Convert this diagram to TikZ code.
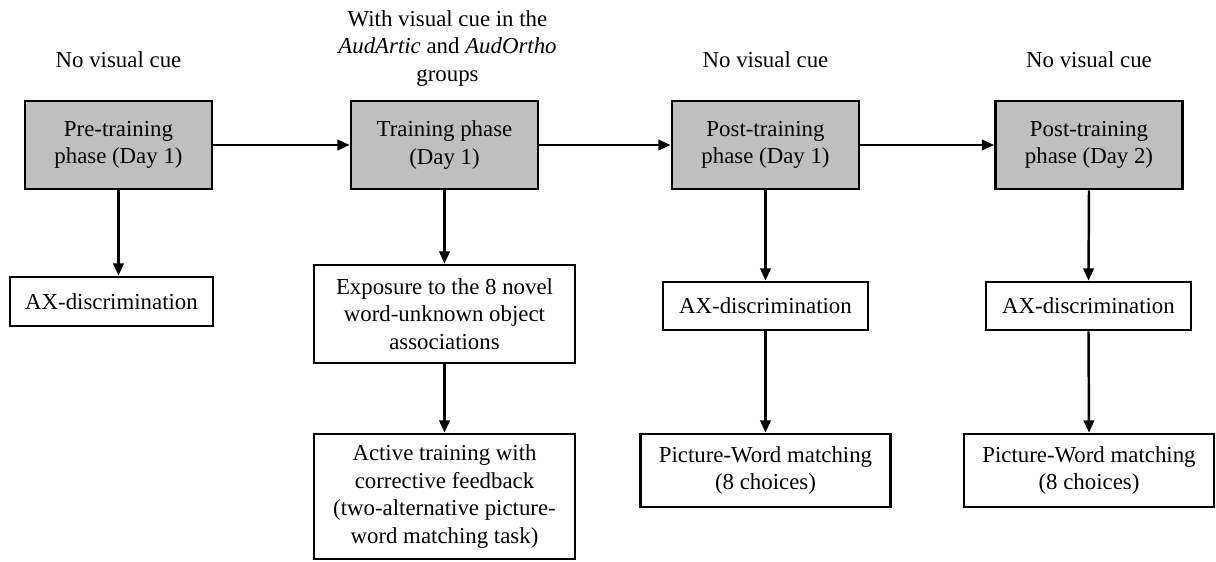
\documentclass[tikz,border=0pt]{standalone}
\usepackage{fontspec}
\setmainfont{Liberation Serif}
\usetikzlibrary{arrows.meta}

\begin{document}
\begin{tikzpicture}[
  font=\fontsize{13}{15.7}\selectfont,
  phase/.style={draw, line width=1.6pt, fill=black!25, align=center, inner sep=0pt, minimum width=3.74cm, minimum height=1.76cm},
  task/.style={draw, line width=1.6pt, fill=white, align=center, inner sep=0pt},
  link/.style={line width=1.4pt, -{Triangle[length=7pt,width=6pt]}}
  ]
  \useasboundingbox (0,0) rectangle (24.32,-11.22);

  % phases
  \node[phase] (pre) at (2.37,-2.9) {Pre-training\\phase (Day 1)};
  \node[phase] (train) at (8.89,-2.9) {Training phase\\(Day 1)};
  \node[phase] (postA) at (15.31,-2.9) {Post-training\\phase (Day 1)};
  \node[phase] (postB) at (21.78,-2.9) {Post-training\\phase (Day 2)};

  % cue labels
  \node[align=center] (cuepre) at (2.37,-1.2) {No visual cue};
  \node[align=center] (cuetrain) at (8.95,-0.97) {With visual cue in the\\\textit{AudArtic} and \textit{AudOrtho}\\groups};
  \node[align=center] (cuepostA) at (15.31,-1.2) {No visual cue};
  \node[align=center] (cuepostB) at (21.78,-1.2) {No visual cue};

  % tasks
  \node[task, minimum width=4.06cm, minimum height=0.98cm] (axpre) at (2.23,-6.03) {AX-discrimination};
  \node[task, minimum width=5.22cm, minimum height=1.96cm] (expo) at (8.89,-6.28) {Exposure to the 8 novel\\word-unknown object\\associations};
  \node[task, minimum width=5.22cm, minimum height=2.5cm] (active) at (8.89,-9.93) {Active training with\\corrective feedback\\(two-alternative picture-\\word matching task)};
  \node[task, minimum width=4.1cm, minimum height=0.96cm] (axpostA) at (15.31,-6.12) {AX-discrimination};
  \node[task, minimum width=4.1cm, minimum height=0.96cm] (axpostB) at (21.77,-6.12) {AX-discrimination};
  \node[task, minimum width=5cm, minimum height=1.46cm] (pwA) at (15.31,-9.41) {Picture-Word matching\\(8 choices)};
  \node[task, minimum width=5cm, minimum height=1.46cm] (pwB) at (21.78,-9.41) {Picture-Word matching\\(8 choices)};

  % arrows
  \draw[link] (pre.east) -- (train.west);
  \draw[link] (train.east) -- (postA.west);
  \draw[link] (postA.east) -- (postB.west);
  \draw[link] (pre.south) -- (pre.south |- axpre.north);
  \draw[link] (train.south) -- (expo.north);
  \draw[link] (expo.south) -- (active.north);
  \draw[link] (postA.south) -- (axpostA.north);
  \draw[link] (axpostA.south) -- (pwA.north);
  \draw[link] (postB.south) -- (axpostB.north);
  \draw[link] (axpostB.south) -- (pwB.north);
\end{tikzpicture}
\end{document}
